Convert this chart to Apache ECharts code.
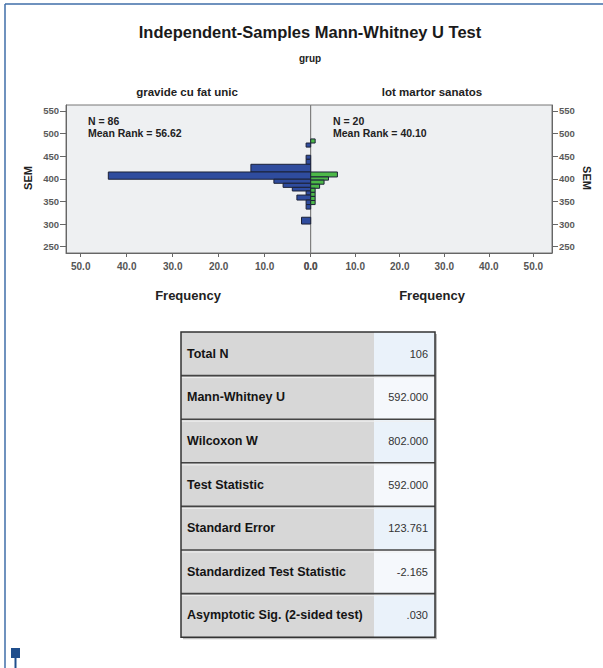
<!DOCTYPE html>
<html>
<head>
<meta charset="utf-8">
<script src="https://cdn.jsdelivr.net/npm/echarts@6/dist/echarts.min.js"></script>
<style>
  html, body { margin: 0; padding: 0; background: #ffffff; }
  #chart { width: 603px; height: 668px; }
</style>
</head>
<body>
<div id="chart"></div>
<script>
// Population-pyramid histogram of SEM by group, plus the test summary table.
const groupNames = ['gravide cu fat unic', 'lot martor sanatos'];
const groupN = [86, 20];
const groupMeanRank = ['56.62', '40.10'];

// SEM bins (lower edge, upper edge) and frequencies per group
const blueLow   = [470, 443, 432, 415, 399, 390, 381, 373, 364, 353, 343, 333, 300];
const blueHigh  = [479, 452, 443, 432, 415, 399, 390, 381, 373, 364, 353, 343, 315];
const blueCount = [1,   1,   1,   13,  44,  8,   6,   4,   1,   3,   1,   1,   2];

const greenLow   = [479, 404, 397, 388, 379, 370, 361, 352, 343];
const greenHigh  = [488, 415, 404, 397, 388, 379, 370, 361, 352];
const greenCount = [1,   6,   4,   3,   2,   1,   1,   1,   1];

const semTicks = [250, 300, 350, 400, 450, 500, 550];
const freqTicks = [0, 10, 20, 30, 40, 50];

const tableLabels = ['Total N', 'Mann-Whitney U', 'Wilcoxon W', 'Test Statistic',
  'Standard Error', 'Standardized Test Statistic', 'Asymptotic Sig. (2-sided test)'];
const tableValues = ['106', '592.000', '802.000', '592.000', '123.761', '-2.165', '.030'];

const FONT = '"Liberation Sans", Arial, Helvetica, sans-serif';
const NARROW = '"Liberation Sans Narrow", "Arial Narrow", "Liberation Sans", sans-serif';

function rows(lo, hi, cnt) {
  return cnt.map((c, i) => [c, lo[i], hi[i]]);
}

function renderBar(params, api) {
  const c = api.value(0), lo = api.value(1), hi = api.value(2);
  const p0 = api.coord([0, lo]);
  const p1 = api.coord([c, hi]);
  return {
    type: 'rect',
    shape: {
      x: Math.min(p0[0], p1[0]),
      y: Math.min(p0[1], p1[1]),
      width: Math.abs(p1[0] - p0[0]),
      height: Math.abs(p1[1] - p0[1])
    },
    style: { fill: api.visual('color'), stroke: '#1c2238', lineWidth: 1 }
  };
}

const plotTop = 105, plotH = 148, midX = 310.7;

function freqAxis(gridIndex, max, inverse) {
  return {
    type: 'value', gridIndex: gridIndex, min: 0, max: max, inverse: inverse,
    axisLine: { show: true, onZero: false, lineStyle: { color: '#666', width: 1 } },
    axisTick: { show: true, length: 4, customValues: freqTicks, lineStyle: { color: '#666' } },
    axisLabel: {
      customValues: freqTicks, formatter: v => v.toFixed(1),
      fontFamily: FONT, fontWeight: 'bold', fontSize: 10, color: '#555', margin: 8
    },
    splitLine: { show: false }
  };
}

function semAxis(gridIndex, position) {
  return {
    type: 'value', gridIndex: gridIndex, position: position, min: 236, max: 563,
    axisLine: { show: true, onZero: false, lineStyle: { color: '#666', width: 1 } },
    axisTick: { show: true, length: 6, customValues: semTicks, lineStyle: { color: '#666' } },
    axisLabel: {
      customValues: semTicks, fontFamily: FONT, fontWeight: 'bold', fontSize: 9.5, color: '#5a5a5a', margin: 7
    },
    splitLine: { show: false }
  };
}

// Summary table drawn as graphic elements
const tblX = 181, tblY = 332, tblW = 254, valColX = 374, rowH = 43.6;
const tableEls = [];
tableEls.push({ type: 'rect', shape: { x: tblX + 2, y: tblY + 2, width: tblW, height: rowH * tableLabels.length },
  style: { fill: '#bdbdbd' }, z: 1 });
tableLabels.forEach((lab, i) => {
  const y = tblY + i * rowH;
  tableEls.push({ type: 'rect', shape: { x: tblX, y: y, width: valColX - tblX, height: rowH },
    style: { fill: '#d7d7d7' }, z: 2 });
  tableEls.push({ type: 'rect', shape: { x: valColX, y: y, width: tblX + tblW - valColX, height: rowH },
    style: { fill: i % 2 === 0 ? '#eaf2fa' : '#f5f8fc' }, z: 2 });
  tableEls.push({ type: 'text', x: tblX + 6, y: y + rowH / 2, z: 4,
    style: { text: lab, font: 'bold 12.5px ' + FONT, fill: '#141414', align: 'left', verticalAlign: 'middle' } });
  tableEls.push({ type: 'text', x: 428, y: y + rowH / 2, z: 4,
    style: { text: tableValues[i], font: '11px ' + NARROW, fill: '#333', align: 'right', verticalAlign: 'middle' } });
  if (i > 0) {
    tableEls.push({ type: 'line', shape: { x1: tblX, y1: y, x2: tblX + tblW, y2: y }, z: 3,
      style: { stroke: '#444', lineWidth: 1.6 } });
    tableEls.push({ type: 'line', shape: { x1: tblX, y1: y + 2, x2: tblX + tblW, y2: y + 2 }, z: 3,
      style: { stroke: '#f0f0f0', lineWidth: 1 } });
  }
});
tableEls.push({ type: 'rect', shape: { x: tblX, y: tblY, width: tblW, height: rowH * tableLabels.length }, z: 5,
  style: { fill: 'none', stroke: '#333', lineWidth: 1.5 } });

const option = {
  animation: false,
  backgroundColor: '#ffffff',
  grid: [
    { left: 66, top: plotTop, width: midX - 66, height: plotH, show: true,
      backgroundColor: '#eef0f2', borderColor: '#777', borderWidth: 1 },
    { left: midX, top: plotTop, width: 552 - midX, height: plotH, show: true,
      backgroundColor: '#eef0f2', borderColor: '#777', borderWidth: 1 }
  ],
  xAxis: [freqAxis(0, 53.2, true), freqAxis(1, 54.2, false)],
  yAxis: [semAxis(0, 'left'), semAxis(1, 'right')],
  series: [
    { name: groupNames[0], type: 'custom', xAxisIndex: 0, yAxisIndex: 0,
      renderItem: renderBar, encode: { x: 0, y: [1, 2] },
      itemStyle: { color: '#2f4c9e' }, data: rows(blueLow, blueHigh, blueCount) },
    { name: groupNames[1], type: 'custom', xAxisIndex: 1, yAxisIndex: 1,
      renderItem: renderBar, encode: { x: 0, y: [1, 2] },
      itemStyle: { color: '#4cb848' }, data: rows(greenLow, greenHigh, greenCount) }
  ],
  graphic: [
    // outer frame
    { type: 'line', shape: { x1: 5, y1: 4, x2: 603, y2: 4 }, style: { stroke: '#3f6ea8', lineWidth: 1.5 } },
    { type: 'line', shape: { x1: 5, y1: 4, x2: 5, y2: 668 }, style: { stroke: '#3f6ea8', lineWidth: 1.5 } },
    { type: 'rect', shape: { x: 11, y: 648, width: 9, height: 10 }, style: { fill: '#1f4e8c' } },
    { type: 'line', shape: { x1: 15.5, y1: 657, x2: 15.5, y2: 668 }, style: { stroke: '#1f4e8c', lineWidth: 2 } },
    // titles
    { type: 'text', x: 310, y: 32, style: { text: 'Independent-Samples Mann-Whitney U Test',
      font: 'bold 16.5px ' + FONT, fill: '#1a1a1a', align: 'center', verticalAlign: 'middle' } },
    { type: 'text', x: 310, y: 58, style: { text: 'grup',
      font: 'bold 10px ' + FONT, fill: '#222', align: 'center', verticalAlign: 'middle' } },
    { type: 'text', x: 187, y: 92, style: { text: groupNames[0],
      font: 'bold 11.5px ' + FONT, fill: '#222', align: 'center', verticalAlign: 'middle' } },
    { type: 'text', x: 432, y: 92, style: { text: groupNames[1],
      font: 'bold 11.5px ' + FONT, fill: '#222', align: 'center', verticalAlign: 'middle' } },
    // group annotations
    { type: 'text', x: 88, y: 121, z: 10, style: { text: 'N = ' + groupN[0],
      font: 'bold 10.5px ' + FONT, fill: '#222', align: 'left', verticalAlign: 'middle' } },
    { type: 'text', x: 88, y: 133, z: 10, style: { text: 'Mean Rank = ' + groupMeanRank[0],
      font: 'bold 10.5px ' + FONT, fill: '#222', align: 'left', verticalAlign: 'middle' } },
    { type: 'text', x: 333, y: 121, z: 10, style: { text: 'N = ' + groupN[1],
      font: 'bold 10.5px ' + FONT, fill: '#222', align: 'left', verticalAlign: 'middle' } },
    { type: 'text', x: 333, y: 133, z: 10, style: { text: 'Mean Rank = ' + groupMeanRank[1],
      font: 'bold 10.5px ' + FONT, fill: '#222', align: 'left', verticalAlign: 'middle' } },
    // axis names
    { type: 'text', x: 28, y: 178, rotation: Math.PI / 2, style: { text: 'SEM',
      font: 'bold 11px ' + FONT, fill: '#222', align: 'center', verticalAlign: 'middle' } },
    { type: 'text', x: 587, y: 178, rotation: -Math.PI / 2, style: { text: 'SEM',
      font: 'bold 11px ' + FONT, fill: '#222', align: 'center', verticalAlign: 'middle' } },
    { type: 'text', x: 188, y: 295, style: { text: 'Frequency',
      font: 'bold 13px ' + FONT, fill: '#222', align: 'center', verticalAlign: 'middle' } },
    { type: 'text', x: 432, y: 295, style: { text: 'Frequency',
      font: 'bold 13px ' + FONT, fill: '#222', align: 'center', verticalAlign: 'middle' } }
  ].concat(tableEls)
};

const chart = echarts.init(document.getElementById('chart'), null, { renderer: 'svg', width: 603, height: 668 });
chart.setOption(option);
</script>
</body>
</html>
